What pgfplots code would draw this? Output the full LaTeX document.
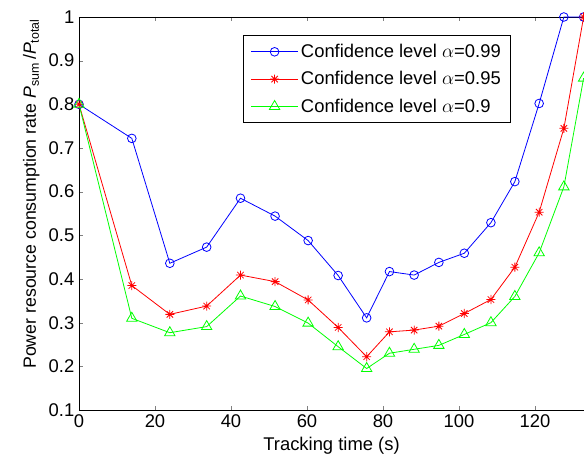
\documentclass[border=0pt]{standalone}
\usepackage{fontspec}
\setmainfont{Liberation Sans}
\usepackage{pgfplots}
\pgfplotsset{compat=1.18}
\pgfdeclareplotmark{mstar}{%
  \pgfpathmoveto{\pgfpoint{-\pgfplotmarksize}{0pt}}\pgfpathlineto{\pgfpoint{\pgfplotmarksize}{0pt}}%
  \pgfpathmoveto{\pgfpoint{0pt}{-\pgfplotmarksize}}\pgfpathlineto{\pgfpoint{0pt}{\pgfplotmarksize}}%
  \pgfpathmoveto{\pgfpoint{-0.707\pgfplotmarksize}{-0.707\pgfplotmarksize}}\pgfpathlineto{\pgfpoint{0.707\pgfplotmarksize}{0.707\pgfplotmarksize}}%
  \pgfpathmoveto{\pgfpoint{-0.707\pgfplotmarksize}{0.707\pgfplotmarksize}}\pgfpathlineto{\pgfpoint{0.707\pgfplotmarksize}{-0.707\pgfplotmarksize}}%
  \pgfusepathqstroke}
\pgfplotstableread{
x     blue   red    green
0     0.800  0.800  0.800
13.9  0.722  0.385  0.310
23.9  0.436  0.319  0.277
33.6  0.473  0.338  0.291
42.5  0.585  0.409  0.361
51.6  0.544  0.394  0.337
60.3  0.488  0.352  0.299
68.2  0.408  0.289  0.245
75.7  0.311  0.222  0.195
81.7  0.417  0.279  0.230
88.2  0.409  0.283  0.239
94.7  0.438  0.292  0.248
101.4 0.459  0.321  0.273
108.4 0.529  0.353  0.300
114.7 0.623  0.427  0.360
121.1 0.802  0.553  0.460
127.6 1.000  0.745  0.611
132.8 1.000  1.000  0.860
}\datatable
\begin{document}
\begin{tikzpicture}
\begin{axis}[
  width=378.75pt, height=294.75pt, scale only axis,
  xmin=0, xmax=132.9, ymin=0.1, ymax=1,
  axis x line*=box, axis y line*=left,
  tick align=inside,
  major tick length=3pt,
  axis line style={line width=0.6pt},
  xtick={0,20,40,60,80,100,120},
  ytick={0.1,0.2,0.3,0.4,0.5,0.6,0.7,0.8,0.9,1},
  /pgf/number format/assume math mode=true,
  ticklabel style={font=\fontsize{13.8}{16}\selectfont},
  label style={font=\fontsize{13.8}{16}\selectfont},
  xlabel={Tracking time (s)},
  ylabel={Power resource consumption rate \textit{P}\textsubscript{sum}\,/\textit{P}\textsubscript{total}},
  ylabel style={at={(ticklabel cs:0.55)}, font=\fontsize{13.3}{16}\selectfont},
  legend style={at={(0.325,0.954)}, anchor=north west, draw=black, line width=0.6pt,
    font=\fontsize{13.8}{16}\selectfont, row sep=5pt, inner xsep=5.5pt, inner ysep=4.5pt},
  legend cell align=left,
  legend image code/.code={\draw[mark repeat=2,mark phase=2,#1] plot coordinates {(0pt,0pt) (17.5pt,0pt) (35pt,0pt)};},
]
\addplot[blue, line width=0.6pt, mark=o, mark size=3.25pt, mark options={solid}] table[x=x,y=blue] {\datatable};
\addlegendentry{Confidence level $\alpha$=0.99}
\addplot[red, line width=0.6pt, mark=mstar, mark size=3.4pt, mark options={solid}] table[x=x,y=red] {\datatable};
\addlegendentry{Confidence level $\alpha$=0.95}
\addplot[green, line width=0.6pt, mark=triangle, mark size=4.5pt, mark options={solid}] table[x=x,y=green] {\datatable};
\addlegendentry{Confidence level $\alpha$=0.9}
\coordinate (sw) at (rel axis cs:0,0);
\coordinate (ne) at (rel axis cs:1,1);
\end{axis}
\pgfresetboundingbox
\path[use as bounding box] ([xshift=-59.25pt,yshift=-37.5pt]sw) rectangle ([yshift=12.75pt]ne);
\end{tikzpicture}
\end{document}
